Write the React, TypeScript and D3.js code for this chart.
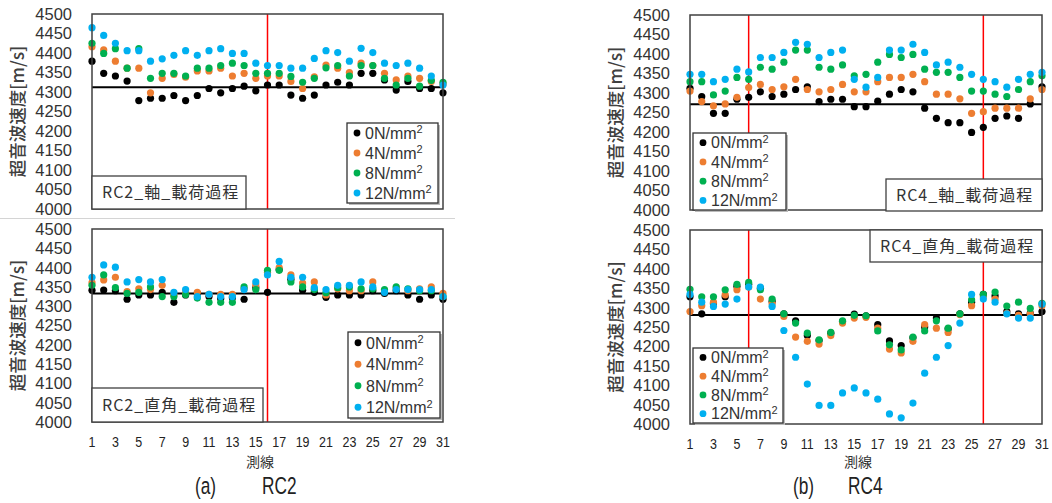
import * as d3 from "d3";

// 測線 1..31
const lines = d3.range(1, 32);
const yTicks = d3.range(4000, 4501, 50);
const xTicks = d3.range(1, 32, 2);
const seriesNames = ["0N/mm", "4N/mm", "8N/mm", "12N/mm"];
const seriesColors = ["#000000", "#ED7D31", "#00B050", "#00B0F0"];

// RC2 軸 載荷過程
const rc2Axial0 = [4379, 4348, 4341, 4328, 4278, 4284, 4284, 4291, 4278, 4291, 4309, 4298, 4309, 4315, 4303, 4318, 4318, 4292, 4284, 4292, 4318, 4325, 4318, 4348, 4348, 4331, 4305, 4327, 4309, 4309, 4298];
const rc2Axial4 = [4416, 4408, 4379, 4361, 4361, 4298, 4335, 4345, 4338, 4354, 4354, 4361, 4341, 4348, 4335, 4341, 4341, 4327, 4309, 4339, 4369, 4361, 4350, 4374, 4368, 4348, 4331, 4341, 4335, 4327, 4320];
const rc2Axial8 = [4425, 4399, 4411, 4361, 4411, 4335, 4348, 4348, 4341, 4361, 4361, 4368, 4374, 4368, 4348, 4348, 4348, 4340, 4325, 4335, 4362, 4368, 4341, 4368, 4368, 4335, 4318, 4335, 4315, 4330, 4325];
const rc2Axial12 = [4465, 4445, 4425, 4406, 4406, 4379, 4385, 4394, 4406, 4394, 4406, 4411, 4399, 4399, 4374, 4368, 4368, 4361, 4361, 4386, 4406, 4401, 4379, 4412, 4401, 4374, 4368, 4374, 4361, 4341, 4318];

// RC2 直角 載荷過程
const rc2Right0 = [4341, 4342, 4340, 4318, 4329, 4329, 4336, 4310, 4329, 4333, 4325, 4320, 4322, 4318, 4348, 4336, 4395, 4370, 4341, 4336, 4323, 4329, 4329, 4329, 4340, 4333, 4340, 4329, 4318, 4329, 4318];
const rc2Right4 = [4361, 4368, 4375, 4338, 4345, 4343, 4354, 4329, 4335, 4336, 4331, 4331, 4331, 4345, 4355, 4388, 4400, 4381, 4360, 4363, 4329, 4345, 4340, 4340, 4363, 4340, 4348, 4340, 4345, 4350, 4333];
const rc2Right8 = [4354, 4381, 4348, 4333, 4336, 4350, 4325, 4325, 4330, 4321, 4310, 4310, 4310, 4350, 4343, 4393, 4393, 4363, 4350, 4343, 4335, 4348, 4350, 4345, 4345, 4343, 4350, 4345, 4340, 4340, 4325];
const rc2Right12 = [4375, 4407, 4401, 4363, 4369, 4363, 4369, 4336, 4343, 4325, 4331, 4325, 4325, 4343, 4363, 4381, 4416, 4375, 4375, 4348, 4343, 4354, 4354, 4363, 4350, 4336, 4343, 4343, 4343, 4343, 4325];

// RC4 軸 載荷過程
const rc4Axial0 = [4312, 4291, 4248, 4248, 4284, 4289, 4303, 4291, 4297, 4309, 4316, 4278, 4284, 4284, 4265, 4265, 4279, 4297, 4309, 4303, 4261, 4235, 4224, 4224, 4199, 4212, 4235, 4241, 4235, 4272, 4316];
const rc4Axial4 = [4305, 4278, 4267, 4272, 4289, 4314, 4322, 4309, 4316, 4335, 4309, 4303, 4309, 4322, 4303, 4303, 4329, 4340, 4340, 4348, 4329, 4297, 4297, 4285, 4248, 4252, 4261, 4261, 4261, 4285, 4309];
const rc4Axial8 = [4329, 4329, 4295, 4305, 4340, 4335, 4366, 4361, 4379, 4410, 4410, 4366, 4361, 4372, 4344, 4348, 4379, 4399, 4391, 4399, 4361, 4353, 4353, 4340, 4305, 4305, 4297, 4291, 4309, 4329, 4344];
const rc4Axial12 = [4348, 4348, 4329, 4335, 4361, 4354, 4391, 4391, 4404, 4430, 4425, 4391, 4404, 4410, 4335, 4315, 4340, 4410, 4410, 4425, 4404, 4372, 4379, 4366, 4348, 4335, 4329, 4315, 4335, 4348, 4353];

// RC4 直角 載荷過程
const rc4Right0 = [4328, 4284, 4310, 4328, 4355, 4360, 4350, 4316, 4284, 4266, 4228, 4215, 4234, 4264, 4283, 4279, 4256, 4214, 4202, 4222, 4250, 4273, 4245, 4284, 4314, 4334, 4330, 4290, 4284, 4285, 4290];
const rc4Right4 = [4290, 4305, 4314, 4333, 4346, 4353, 4322, 4310, 4277, 4224, 4213, 4206, 4228, 4260, 4273, 4275, 4247, 4193, 4183, 4213, 4256, 4247, 4236, 4282, 4305, 4328, 4322, 4285, 4280, 4284, 4305];
const rc4Right8 = [4347, 4328, 4328, 4346, 4360, 4365, 4346, 4322, 4284, 4260, 4234, 4217, 4236, 4266, 4280, 4279, 4240, 4204, 4191, 4224, 4240, 4266, 4247, 4284, 4320, 4334, 4340, 4304, 4314, 4298, 4311];
const rc4Right12 = [4334, 4314, 4303, 4309, 4322, 4353, 4353, 4303, 4241, 4172, 4103, 4048, 4048, 4080, 4093, 4080, 4064, 4026, 4016, 4054, 4131, 4172, 4202, 4260, 4334, 4322, 4314, 4284, 4273, 4273, 4309];

const panels = [
  {
    title: "RC2_軸_載荷過程",
    series: [rc2Axial0, rc2Axial4, rc2Axial8, rc2Axial12],
    baseline: 4312, marks: [16],
    box: [92, 14, 443, 209], titleBox: [92, 176, 246, 209],
    legend: [347, 123, 438, 203], xAxis: false,
  },
  {
    title: "RC2_直角_載荷過程",
    series: [rc2Right0, rc2Right4, rc2Right8, rc2Right12],
    baseline: 4333, marks: [16],
    box: [92, 229, 443, 422], titleBox: [92, 388, 263, 422],
    legend: [348, 332, 440, 418], xAxis: true,
  },
  {
    title: "RC4_軸_載荷過程",
    series: [rc4Axial0, rc4Axial4, rc4Axial8, rc4Axial12],
    baseline: 4271, marks: [6, 26],
    box: [690, 15, 1042, 210], titleBox: [886, 179, 1042, 211],
    legend: [693, 133, 786, 210], xAxis: false,
  },
  {
    title: "RC4_直角_載荷過程",
    series: [rc4Right0, rc4Right4, rc4Right8, rc4Right12],
    baseline: 4281, marks: [6, 26],
    box: [690, 230, 1042, 424], titleBox: [870, 230, 1042, 262],
    legend: [693, 348, 783, 423], xAxis: true,
  },
];

const sans = "'Liberation Sans', Arial, sans-serif";
const cjk = "'Noto Sans CJK JP', sans-serif";

function Panel({ p }: { p: typeof panels[number] }) {
  const [x0, y0, x1, y1] = p.box;
  const x = d3.scaleLinear().domain([1, 31]).range([x0, x1]);
  const y = d3.scaleLinear().domain([4000, 4500]).range([y1, y0]);
  const [lx0, ly0, lx1, ly1] = p.legend;
  const rowH = (ly1 - ly0) / 4;
  const [tx0, ty0, tx1, ty1] = p.titleBox;
  return (
    <g>
      {yTicks.map(t => (
        <text key={t} x={x0 - 20} y={y(t)} dy="0.36em" textAnchor="end"
          fontFamily={sans} fontSize={16.5} fill="#333">{t}</text>
      ))}
      <text transform={`translate(${x0 - 74},${(y0 + y1) / 2}) rotate(-90)`}
        textAnchor="middle" dy="0.35em" fontFamily={cjk} fontSize={17.5} fontWeight={500} fill="#404040">
        超音波速度[m/s]
      </text>
      {p.xAxis && xTicks.map(t => (
        <text key={t} x={x(t)} y={y1 + 20} dy="0.35em" textAnchor="middle"
          fontFamily={sans} fontSize={14.5} fill="#222"
          transform={`translate(${x(t)},0) scale(0.86,1) translate(${-x(t)},0)`}>{t}</text>
      ))}
      <line x1={x0} x2={x1} y1={y(p.baseline)} y2={y(p.baseline)} stroke="#000" strokeWidth={2} />
      {p.marks.map(m => (
        <line key={m} x1={x(m)} x2={x(m)} y1={y0} y2={y1} stroke="#FF0000" strokeWidth={1.5} />
      ))}
      {p.series.map((s, si) => (
        <g key={si} fill={seriesColors[si]}>
          {s.map((v, i) => <circle key={i} cx={x(lines[i])} cy={y(v)} r={3.6} />)}
        </g>
      ))}
      <rect x={x0} y={y0} width={x1 - x0} height={y1 - y0} fill="none" stroke="#404040" strokeWidth={1.5} />
      <rect x={tx0} y={ty0} width={tx1 - tx0} height={ty1 - ty0} fill="#fff" stroke="#404040" strokeWidth={1.3} />
      <text x={tx0 + 10} y={(ty0 + ty1) / 2} dy="0.36em" fontFamily={cjk} fontSize={16} letterSpacing={1} fill="#333">
        {p.title}
      </text>
      <rect x={lx0 + 2} y={ly0 + 2} width={lx1 - lx0} height={ly1 - ly0} fill="#bbb" />
      <rect x={lx0} y={ly0} width={lx1 - lx0} height={ly1 - ly0} fill="#fff" stroke="#333" strokeWidth={1.3} />
      {seriesNames.map((n, i) => (
        <g key={n}>
          <circle cx={lx0 + 10} cy={ly0 + rowH * (i + 0.5)} r={3.4} fill={seriesColors[i]} />
          <text x={lx0 + 18} y={ly0 + rowH * (i + 0.5)} dy="0.36em" fontFamily={sans} fontSize={16} fill="#333">
            {n}<tspan fontSize={11} dy="-0.5em">2</tspan>
          </text>
        </g>
      ))}
    </g>
  );
}

export default function App() {
  return (
    <div style={{ position: "absolute", left: 0, top: 0 }}>
      <svg width={1052} height={503} style={{ display: "block", background: "#fff" }}>
        <line x1={0} x2={455} y1={218.5} y2={218.5} stroke="#d4d4d4" strokeWidth={1} />
        {panels.map((p, i) => <Panel key={i} p={p} />)}
        <text x={260} y={462} dy="0.35em" textAnchor="middle" fontFamily={cjk} fontSize={14} fill="#333">測線</text>
        <text x={858} y={462} dy="0.35em" textAnchor="middle" fontFamily={cjk} fontSize={14} fill="#333">測線</text>
        <text transform="translate(195,494) scale(0.75,1.05)" fontFamily={sans} fontSize={23} fill="#222">(a)</text>
        <text transform="translate(262,494) scale(0.75,1.05)" fontFamily={sans} fontSize={23} fill="#222">RC2</text>
        <text transform="translate(793,494) scale(0.75,1.05)" fontFamily={sans} fontSize={23} fill="#222">(b)</text>
        <text transform="translate(848,494) scale(0.75,1.05)" fontFamily={sans} fontSize={23} fill="#222">RC4</text>
      </svg>
    </div>
  );
}
